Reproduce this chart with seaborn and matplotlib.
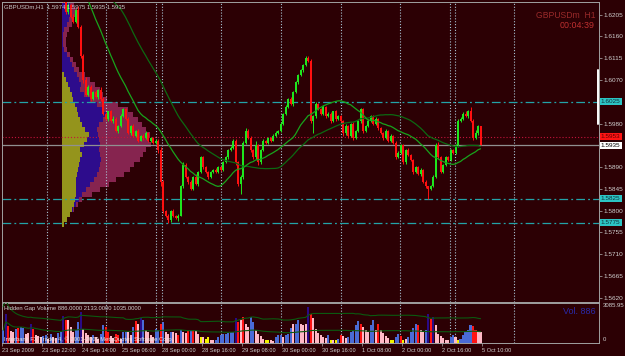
import numpy as np
import pandas as pd
import matplotlib
matplotlib.use("Agg")
import matplotlib.pyplot as plt
import seaborn as sns

# ---------------- data ----------------
close = [1.6405, 1.6420, 1.6445, 1.6470, 1.6490, 1.6460, 1.6430, 1.6410, 1.6385, 1.6370, 1.6390, 1.6360, 1.6340,
         1.6355, 1.6330, 1.6310, 1.6325, 1.6300, 1.6285, 1.6290, 1.6270, 1.6260, 1.6250, 1.6240, 1.6235,
         1.6210, 1.6225, 1.6200, 1.6190, 1.6215, 1.6180, 1.6120, 1.6070,
         1.6040, 1.6055, 1.6030, 1.6045, 1.6035, 1.6050, 1.6030, 1.6000, 1.5990, 1.6005, 1.5985, 1.5990, 1.5965, 1.5975, 1.5995,
         1.6010, 1.5990, 1.5960, 1.5975, 1.5955, 1.5965, 1.5945, 1.5955, 1.5950, 1.5960, 1.5945, 1.5950, 1.5940, 1.5945, 1.5925,
         1.5860, 1.5800, 1.5790, 1.5780, 1.5800, 1.5790, 1.5785,
         1.5790, 1.5850, 1.5895, 1.5870, 1.5860, 1.5845, 1.5870, 1.5855, 1.5880, 1.5910,
         1.5890, 1.5880, 1.5870, 1.5880, 1.5885, 1.5880, 1.5890, 1.5885, 1.5900, 1.5910, 1.5925, 1.5930, 1.5945, 1.5900, 1.5855, 1.5870,
         1.5940, 1.5965, 1.5950, 1.5925, 1.5910, 1.5935, 1.5900, 1.5925, 1.5945, 1.5940, 1.5950, 1.5945, 1.5955, 1.5960, 1.5965, 1.5980,
         1.6000, 1.6015, 1.6030, 1.6020, 1.6045, 1.6065, 1.6080, 1.6090, 1.6100, 1.6115, 1.6110,
         1.5985, 1.5995, 1.6020, 1.6010, 1.6000, 1.6015, 1.5995, 1.6000, 1.5985, 1.6005, 1.5990, 1.5995, 1.5985,
         1.5960, 1.5975, 1.5955, 1.5980, 1.5950, 1.5965, 1.5985, 1.6010, 1.5965, 1.5975, 1.5985, 1.5995, 1.5980, 1.5990, 1.5970,
         1.5960, 1.5950, 1.5965, 1.5945, 1.5955, 1.5940, 1.5910, 1.5920, 1.5935, 1.5900, 1.5925, 1.5915, 1.5905, 1.5880, 1.5890,
         1.5875, 1.5885, 1.5860, 1.5850, 1.5845, 1.5850, 1.5870, 1.5935, 1.5910, 1.5880, 1.5895, 1.5910, 1.5905, 1.5925, 1.5920, 1.5935,
         1.5985, 1.5990, 1.6000, 1.5995, 1.6005, 1.5985, 1.5950, 1.5960, 1.5974, 1.5935]

wick_up = [4, 5, 3, 6, 3, 4, 3, 2, 3, 4, 2, 3, 2, 3, 4, 2,
           3, 2, 2, 3, 2, 3, 2, 2, 3, 5, 4, 3, 6, 2, 8, 3,
           3, 6, 4, 5, 3, 4, 2, 5, 4, 3, 2, 3, 6, 4, 3, 5,
           3, 2, 4, 3, 5, 2, 3, 2, 3, 4, 2, 3, 2, 3, 4, 6,
           3, 2, 3, 2, 3, 2, 3, 4, 6, 3, 2, 3, 2, 5, 3, 4,
           2, 3, 2, 3, 2, 3, 2, 3, 2, 3, 2, 3, 3, 4, 2, 3,
           4, 6, 3, 5, 3, 8, 3, 2, 3, 2, 3, 2, 3, 4, 2, 3,
           2, 3, 2, 4, 3, 2, 3, 2, 3, 5, 4, 3, 2, 4, 3, 2,
           3, 2, 3, 4, 2, 3, 2, 3, 2, 4, 3, 2, 3, 2, 3, 3,
           2, 3, 4, 3, 2, 3, 2, 3, 2, 3, 2, 3, 2, 5, 3, 2,
           3, 2, 4, 3, 2, 3, 2, 3, 2, 3, 2, 3, 4, 4, 6, 3,
           2, 3, 2, 3, 2, 3, 4, 4, 3, 5, 3, 10, 4, 6, 3, 1]

wick_dn = [3, 4, 3, 2, 5, 3, 4, 3, 2, 3, 4, 3, 2, 3, 2, 3,
           2, 3, 4, 2, 3, 2, 3, 2, 3, 3, 4, 2, 3, 2, 3, 4,
           6, 3, 4, 3, 2, 3, 4, 3, 2, 3, 4, 2, 3, 2, 4, 3,
           2, 3, 2, 4, 3, 2, 3, 2, 3, 2, 3, 4, 2, 3, 5, 8,
           4, 3, 5, 3, 4, 3, 6, 2, 3, 2, 4, 3, 3, 2, 5, 3,
           3, 2, 4, 2, 3, 2, 3, 2, 3, 2, 3, 2, 3, 6, 5, 20,
           4, 3, 2, 4, 3, 3, 5, 3, 2, 3, 2, 3, 2, 3, 2, 2,
           3, 2, 3, 2, 3, 2, 3, 2, 3, 2, 3, 3, 25, 3, 2, 3,
           2, 3, 2, 3, 2, 4, 3, 2, 5, 3, 4, 2, 3, 2, 3, 3,
           4, 2, 3, 2, 3, 2, 3, 2, 3, 2, 4, 3, 2, 3, 2, 3,
           4, 3, 2, 3, 4, 3, 2, 4, 3, 3, 20, 3, 2, 3, 4, 3,
           3, 2, 3, 2, 3, 2, 3, 2, 3, 2, 3, 2, 4, 2, 3, 0]

vol = [980, 2260, 1290, 930, 850, 1100, 1180, 1230, 1180, 720, 770, 1490, 1100, 590, 510, 460,
       510, 640, 330, 720, 460, 410, 770, 850, 2060, 1750, 1750, 1230, 850, 1030, 1620, 2390,
       1100, 770, 590, 460, 590, 460, 330, 720, 1360, 1230, 850, 510, 410, 720, 590, 330,
       850, 850, 850, 590, 1230, 1700, 1490, 1960, 1750, 1030, 850, 590, 460, 1100, 1030, 1440,
       1620, 850, 720, 850, 850, 770, 590, 980, 850, 770, 980, 1030, 1030, 930, 720, 460,
       460, 330, 460, 260, 200, 200, 460, 590, 720, 720, 770, 850, 850, 1930, 1620, 1750,
       2000, 1490, 1230, 2000, 1620, 980, 720, 510, 330, 260, 200, 200, 150, 460, 590, 590,
       460, 590, 720, 1180, 1490, 1440, 1750, 1490, 1360, 1490, 2780, 2260, 1900, 1100, 770, 590,
       460, 410, 640, 200, 260, 200, 330, 640, 510, 410, 460, 850, 1030, 1360, 1700, 1490,
       1230, 980, 850, 1360, 1800, 1030, 1490, 980, 770, 510, 410, 200, 260, 460, 720, 510,
       260, 330, 460, 850, 1180, 1490, 1360, 980, 850, 980, 2210, 1880, 2000, 1360, 720, 510,
       410, 260, 200, 460, 640, 460, 260, 330, 590, 850, 1030, 1360, 1290, 1030, 850, 886]

vol_kind = ("birppbrbbppirppp" "bbpbppbbirpppbbi" "ppppbppbbrrpprrp" "bbppbrpibppppbbr"
            "bppbpprbpprbrppy" "pyyppbbbbbbbbirp" "rppbbppppyyppbbb" "pbbbpbbpppirpppp"
            "ppbypybrppbbbbbr" "pppbbprppppyybbr" "ypbbbbrppbiripp p".replace(" ", "") + "p" if False else
            "bppbpprbpprbrppy")
vol_kind = ("birppbrbbppirppp" "bbpbppbbirpppbbi" "ppppbppbbrrpprrp" "bbppbrpibppppbbr"
            "bppbpprbpprbrppy" "pyyppbbbbbbbbirp" "rppbbppppyyppbbb" "pbbbpbbpppirpppp"
            "ppbypybrppbbbbbr" "pppbbprppppyybbr" "ypbbbbrppbirippp" "pppbbpybbbbbrrpp")

# volume-at-price profile (cumulative widths, screen units)
prof_olive = [0, 0, 0, 0, 0, 0, 0, 0, 0, 0, 0, 0, 0, 0, 2, 4, 6, 8, 10, 11, 13, 15, 16, 18, 20, 23, 27,
              25, 22, 18, 20, 18, 17, 16, 15, 14, 14, 14, 14, 13, 12, 10, 8, 5, 2]
prof_blue = [8, 10, 9, 7, 5, 2, 1, 1, 1, 2, 5, 8, 10, 12, 15, 17, 19, 18, 22, 28, 35, 42, 45, 41, 37, 35, 36,
             37, 38, 37, 38, 39, 38, 37, 35, 32, 28, 24, 20, 17, 14, 11, 8, 5, 2]
prof_maroon = [12, 15, 14, 12, 10, 7, 5, 4, 4, 5, 8, 11, 14, 17, 23, 28, 33, 38, 41, 45, 56, 66, 71, 76, 80, 84, 88,
               87, 89, 84, 81, 78, 72, 68, 62, 54, 47, 38, 30, 20, 16, 12, 8, 5, 2]
prof_top, prof_step = 1.6225, 0.001033

date_labels = ["23 Sep 2009", "23 Sep 22:00", "24 Sep 14:00", "25 Sep 06:00", "28 Sep 00:00",
               "28 Sep 16:00", "29 Sep 08:00", "30 Sep 00:00", "30 Sep 16:00", "1 Oct 08:00",
               "2 Oct 00:00", "2 Oct 16:00", "5 Oct 10:00"]
price_ticks = [1.6205, 1.6160, 1.6115, 1.6070, 1.5980, 1.5890, 1.5845, 1.5800, 1.5755, 1.5710, 1.5665, 1.5620]
separators = [17.6, 41.2, 61.2, 63.6, 87.2, 111.2, 135.2, 158.8, 178.8, 180.8, 204.4]
teal_levels = [1.6025, 1.5825, 1.5775]
ask_level = 1.5953
bid_level = 1.5935
vol_values_label = "Hidden Gap Volume 886.0000 2133.0000 1035.0000"

# ---------------- style ----------------
BG = "#2c0004"
sns.set_theme(style="dark", rc={"axes.facecolor": BG, "figure.facecolor": BG,
                                "axes.edgecolor": "#a0a0a0", "axes.linewidth": 0.7})
plt.rcParams["font.family"] = ["Liberation Sans", "DejaVu Sans"]

W, H = 625, 356
fig = plt.figure(figsize=(W / 100, H / 100), dpi=100)
ax = fig.add_axes([2 / W, 1 - 302 / H, 597 / W, 300 / H])
axv = fig.add_axes([2 / W, 1 - 343 / H, 597 / W, 40 / H])
for a in (ax, axv):
    a.set_facecolor(BG)
    a.set_xlim(-0.4, 238.4)
    a.grid(False)
    for s in a.spines.values():
        s.set_color("#a0a0a0")
        s.set_linewidth(0.7)

n = len(close)
x = np.arange(n)
c = np.array(close)
o = np.r_[c[0], c[:-1]]
hi = np.maximum(o, c) + np.array(wick_up) * 0.0001
lo = np.minimum(o, c) - np.array(wick_dn) * 0.0001
up = c >= o
ccol = np.where(up, "#1ee61e", "#ff1010")

# profile
lev = prof_top - prof_step * np.arange(len(prof_olive))
left0 = 23.6
ax.barh(lev, np.array(prof_maroon) / 2.5, left=left0, height=prof_step, color="#86244f", lw=0, zorder=1)
ax.barh(lev, np.array(prof_blue) / 2.5, left=left0, height=prof_step, color="#2d0c8c", lw=0, zorder=1)
ax.barh(lev, np.array(prof_olive) / 2.5, left=left0, height=prof_step, color="#94941c", lw=0, zorder=1)

# separators & levels
for s in separators:
    for a in (ax, axv):
        a.axvline(s, color="#a9c2d2", lw=0.8, ls=(0, (1, 1.6)), zorder=2)
for lv in teal_levels:
    ax.axhline(lv, color="#23a3a8", lw=0.9, ls=(0, (7, 2.5, 1.5, 2.5)), zorder=2)
ax.axhline(ask_level, color="#c4143c", lw=0.8, ls=(0, (1, 1.8)), zorder=2)
ax.axhline(bid_level, color="#909090", lw=0.9, zorder=2)

# candles
ax.vlines(x, lo, hi, colors=ccol, lw=0.7, zorder=4)
ax.bar(x, np.maximum(np.abs(c - o), 0.00005), bottom=np.minimum(o, c), width=0.8,
       color=ccol, lw=0, zorder=4)

# moving averages
cs = pd.Series(c)
ma_fast = cs.rolling(24, min_periods=1).mean()
ma_slow = cs.rolling(48, min_periods=1).mean()
sns.lineplot(x=x, y=ma_slow.values, ax=ax, color="#0c6a12", lw=0.9, zorder=5, legend=False)
sns.lineplot(x=x, y=ma_fast.values, ax=ax, color="#18a41c", lw=0.9, zorder=5, legend=False)

ax.set_ylim(1.56113, 1.62312)
ax.set_xticks([])
ax.set_xlabel("")
ax.set_ylabel("")
ax.yaxis.tick_right()
ax.set_yticks(price_ticks)
ax.set_yticklabels([f"{p:.4f}" for p in price_ticks], fontsize=4.6, color="#d0d0d0")
ax.tick_params(axis="y", length=2, width=0.5, pad=1.5, color="#b0b0b0", right=True)

# price tags
tags = [(teal_levels[0], "#2cc4c4", "#10303a"), (ask_level, "#ff1414", "#600000"),
        (bid_level, "#ffffff", "#000000"), (teal_levels[1], "#2cc4c4", "#10303a"),
        (teal_levels[2], "#2cc4c4", "#10303a")]
for lv, fc, tc in tags:
    ax.text(1.003, lv, f"{lv:.4f}", transform=ax.get_yaxis_transform(), fontsize=4.6, color=tc,
            va="center", ha="left", clip_on=False,
            bbox=dict(boxstyle="square,pad=0.18", fc=fc, ec="none"), zorder=6)
ax.plot([0.998, 0.998], [1.6091, 1.5980], transform=ax.get_yaxis_transform(), color="white",
        lw=1.4, zorder=6, clip_on=False)

# header texts
fig.text(4 / W, 1 - 6.5 / H, "GBPUSDm,H1  1.5974 1.5975 1.5935 1.5935", fontsize=4.3,
         color="#c8c8c8", va="center", ha="left")
fig.text(595 / W, 1 - 15 / H, "GBPUSDm  H1", fontsize=6.2, color="#9a2a2a", va="center", ha="right")
fig.text(595 / W, 1 - 26 / H, "00:04:39", fontsize=6.4, color="#c03030", va="center", ha="right")

# volume panel
kind_colors = {"b": "#4a6bd6", "r": "#ff1414", "p": "#ffb8c6", "i": "#2a0a86", "y": "#f2f200"}
vcols = [kind_colors[k] for k in vol_kind]
axv.bar(x, vol, width=0.85, color=vcols, lw=0, zorder=3)
vs = pd.Series(vol, dtype=float)
vmean = vs.rolling(48, min_periods=1).mean()
vstd = vs.rolling(48, min_periods=2).std().bfill()
sns.lineplot(x=x, y=(vmean + 2 * vstd).values, ax=axv, color="#0b5a10", lw=0.8, zorder=4, legend=False)
sns.lineplot(x=x, y=vmean.values, ax=axv, color="#0b5a10", lw=0.8, zorder=4, legend=False)
axv.set_ylim(0, 3086)
axv.set_yticks([])
axv.set_ylabel("")
axv.set_xticks([16 * k - 0.5 for k in range(len(date_labels))])
axv.set_xticklabels(date_labels, fontsize=4.1, color="#d0d0d0", ha="left")
axv.tick_params(axis="x", length=2, width=0.5, pad=1.5, color="#b0b0b0", bottom=True)
axv.text(0.004, 0.86, vol_values_label, transform=axv.transAxes, fontsize=4.2, color="#d0d0d0",
         va="center", ha="left", zorder=6)
axv.text(0.004, 0.1, "Interbank FX Trader 4, \u00a9 2001-2009 MetaQuotes Software Corp.",
         transform=axv.transAxes, fontsize=4.2, color="#e8e8e8", va="center", ha="left", zorder=6)
axv.text(0.995, 0.8, "Vol. 886", transform=axv.transAxes, fontsize=6.5, color="#2a2aa8",
         va="center", ha="right", zorder=6)
axv.text(1.007, 0.93, "3085.95", transform=axv.transAxes, fontsize=4.3, color="#d0d0d0",
         va="center", ha="left", clip_on=False)
axv.text(1.007, 0.08, "0", transform=axv.transAxes, fontsize=4.3, color="#d0d0d0",
         va="center", ha="left", clip_on=False)

fig.savefig("out.png", dpi=100, facecolor=BG)
